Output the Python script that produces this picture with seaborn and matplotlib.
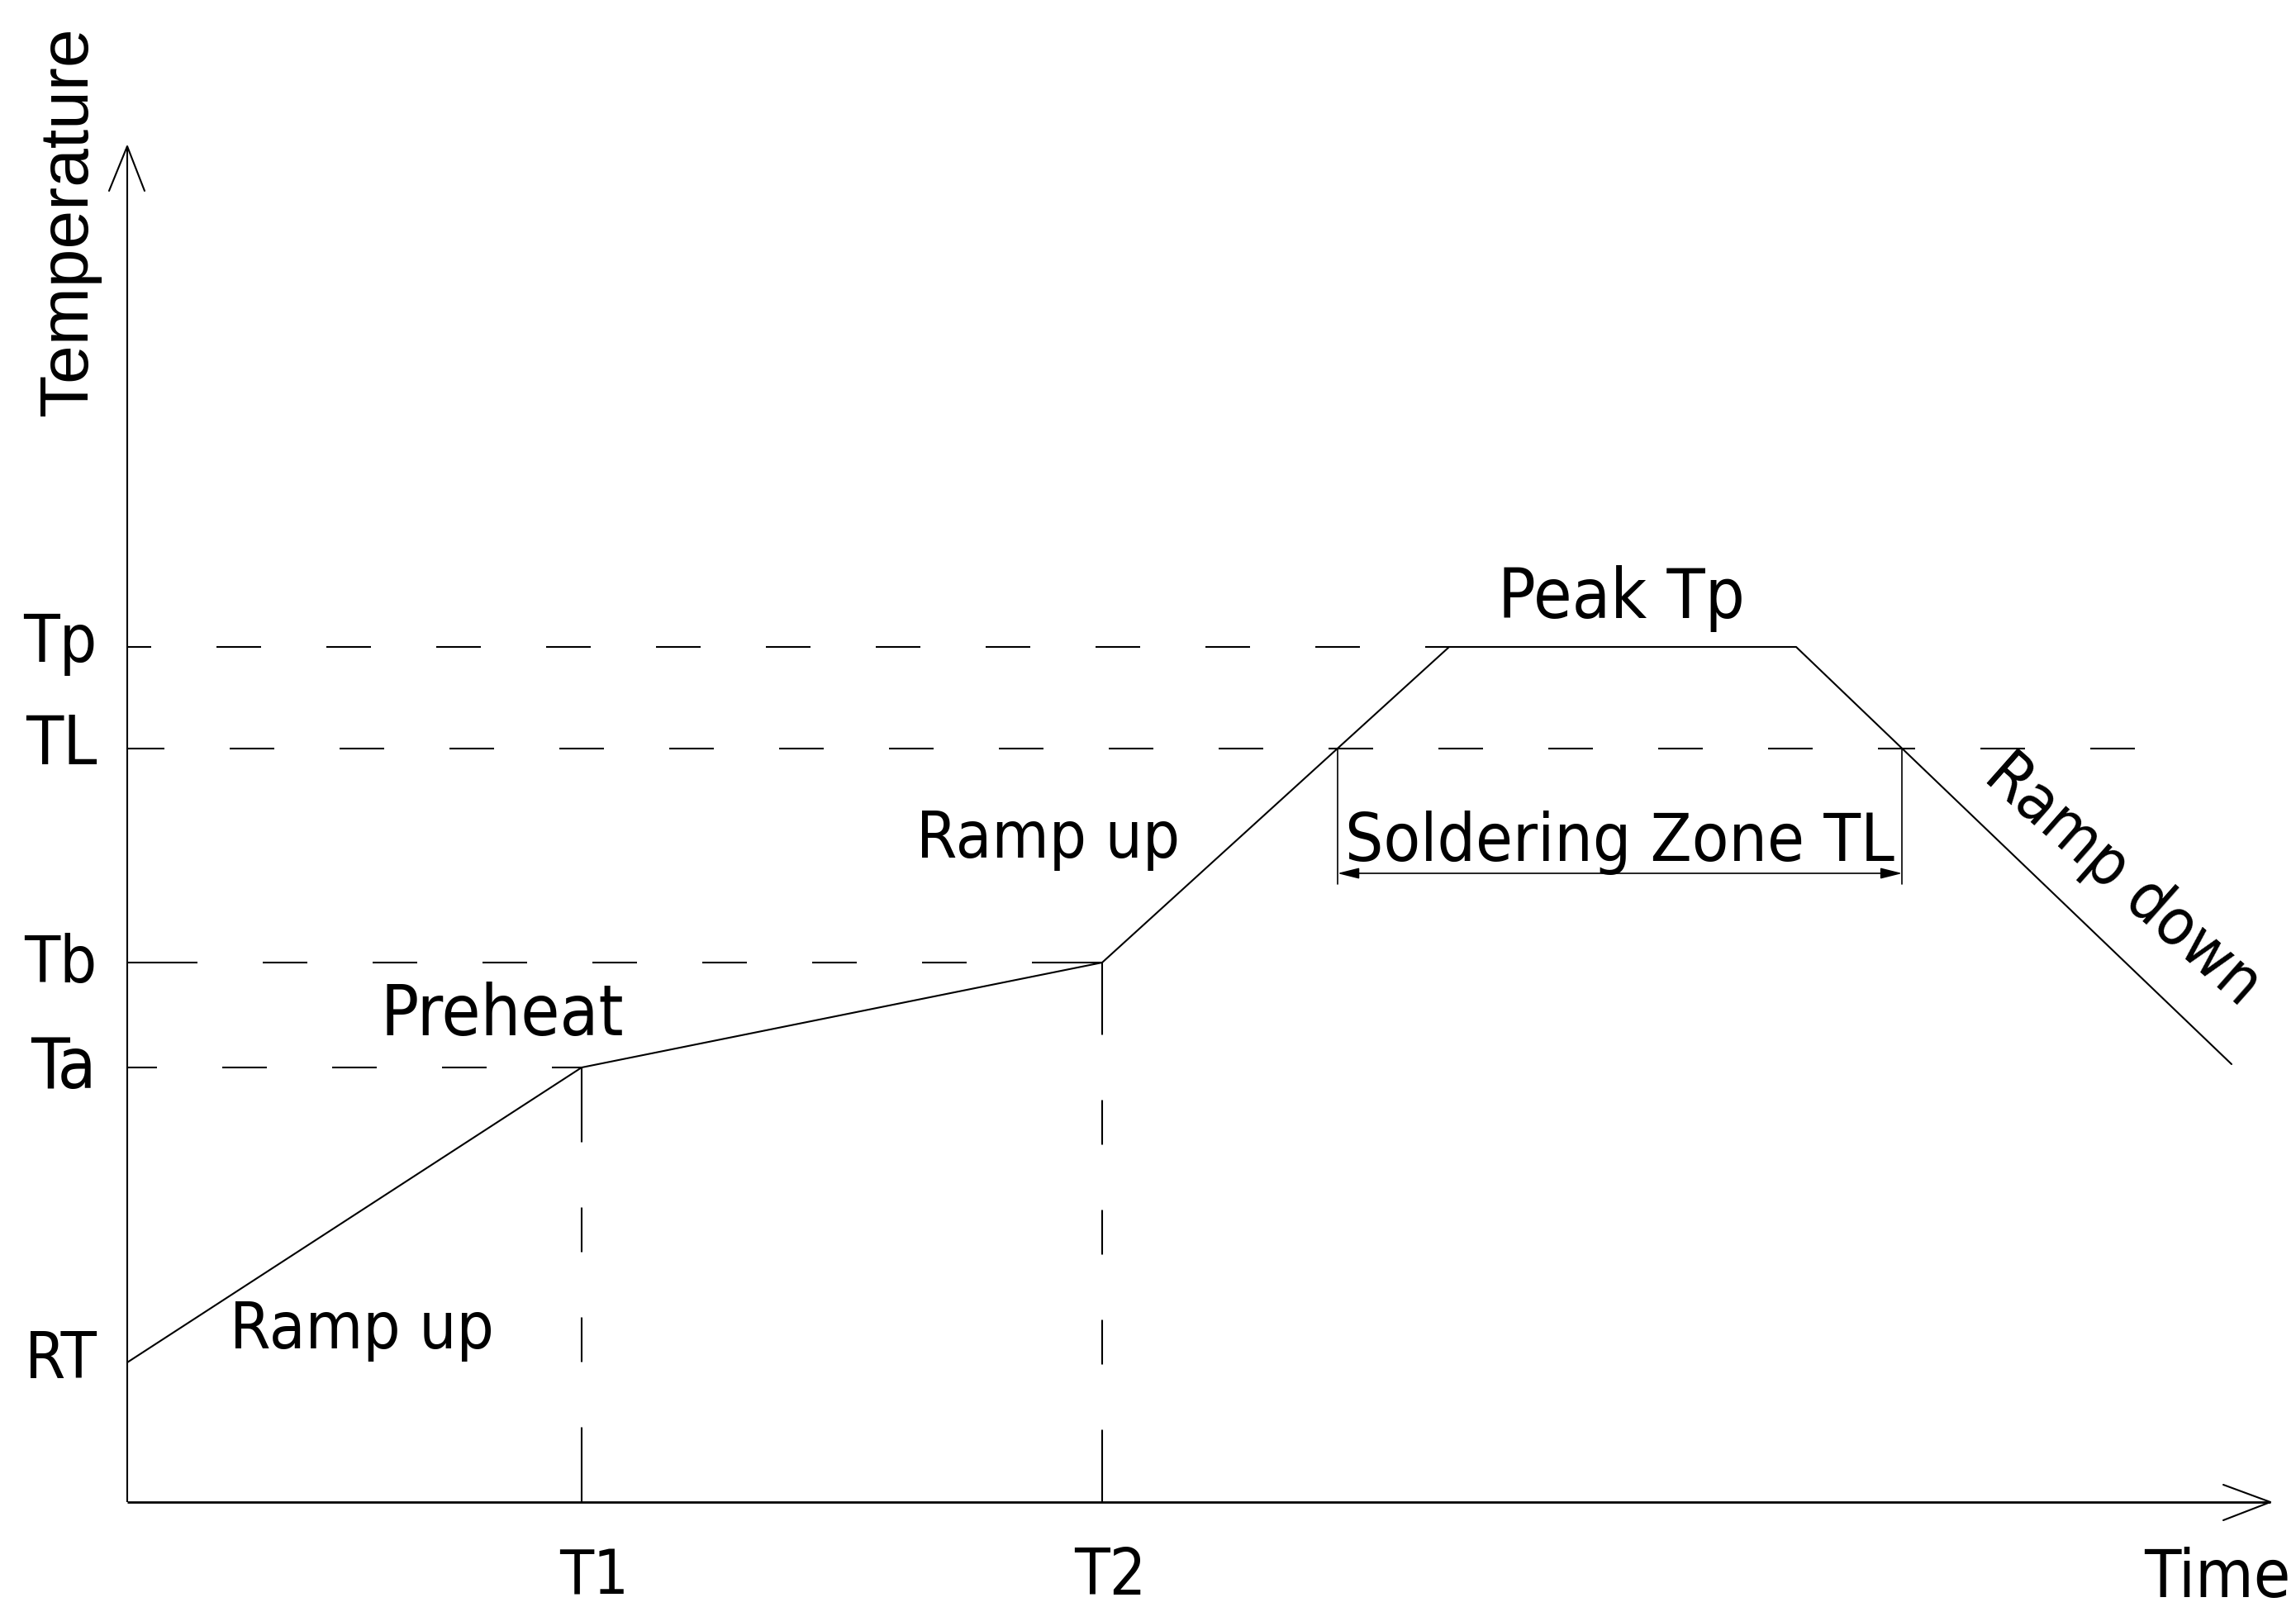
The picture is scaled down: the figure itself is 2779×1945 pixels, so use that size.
import numpy as np
import pandas as pd
import matplotlib
matplotlib.use("Agg")
import matplotlib.pyplot as plt
from matplotlib import font_manager
import seaborn as sns

# ---------------- data (schematic units) ----------------
profile_time = [0.0, 55.0, 118.0, 160.0, 202.0, 254.7]
profile_temp = [16.9, 52.6, 65.3, 103.5, 103.5, 53.0]

level_names = ["Tp", "TL", "Tb", "Ta", "RT"]
level_values = [103.5, 91.2, 65.3, 52.6, 16.9]

time_names = ["T1", "T2"]
time_values = [55.0, 118.0]

tl_line_end = 243.0
x_axis_end = 259.4
y_axis_end = 164.1

# ---------------- style ----------------
sns.set_theme(style="white")
plt.rcParams["lines.scale_dashes"] = False
plt.rcParams["text.color"] = "black"
plt.rcParams["font.family"] = ["Liberation Sans", "DejaVu Sans"]


def find_narrow():
    best = None
    for f in font_manager.fontManager.ttflist:
        fn = f.fname.lower()
        nm = f.name.lower()
        if not ("narrow" in fn or "condensed" in fn or "narrow" in nm or "condensed" in nm):
            continue
        if any(k in fn for k in ("bold", "italic", "oblique", "mono", "serif", "light", "thin", "black")):
            continue
        if "serif" in nm or "mono" in nm:
            continue
        score = 0 if "liberation" in fn else 1
        if best is None or score < best[0]:
            best = (score, f.fname)
    return best[1] if best else None


narrow_path = find_narrow()


def make_fp(size, regular=False):
    if narrow_path and not regular:
        fp = font_manager.FontProperties(fname=narrow_path)
    else:
        fp = font_manager.FontProperties(family=["Liberation Sans", "DejaVu Sans"])
    fp.set_size(size)
    return fp


DPI = 100
fig = plt.figure(figsize=(27.79, 19.45), dpi=DPI)
ax = fig.add_axes([0, 0, 1, 1])
ax.set_xlim(-15.4, 262.5)
ax.set_ylim(-12.7, 181.8)
ax.set_axis_off()
renderer = fig.canvas.get_renderer()

PX = 10.0          # pixels per data unit
PT = 72.0 / DPI    # points per pixel
DASH, GAP = 54.0, 79.0
LW = 1.5


def cad_dashes(length_units):
    """Symmetric CAD-style dash pattern for a line of the given length."""
    L = length_units * PX
    period = DASH + GAP
    n = int((L - GAP - DASH) // period)
    while n >= 0:
        d0 = (L - GAP - n * period) / 2.0
        if d0 >= DASH / 2:
            break
        n -= 1
    seq = [d0, GAP] + [DASH, GAP] * n + [d0, GAP * 4]
    return (0, [s * PT for s in seq])


def label(x, y, s, target_w, size=61, rotation=0, regular=False, **kw):
    t = ax.text(x, y, s, fontproperties=make_fp(size, regular), **kw)
    w = t.get_window_extent(renderer).width
    scale = (target_w / w) ** 0.5
    t.set_fontproperties(make_fp(size * scale, regular))
    if rotation:
        t.set_rotation(rotation)
        t.set_rotation_mode("anchor")
    return t


lv = dict(zip(level_names, level_values))

# dashed guide lines (horizontal)
h_lines = [("Tp", 0.0, profile_time[3]), ("TL", 0.0, tl_line_end),
           ("Tb", 0.0, time_values[1]), ("Ta", 0.0, time_values[0])]
for name, x0, x1 in h_lines:
    ax.plot([x0, x1], [lv[name], lv[name]], color="black", lw=LW,
            linestyle=cad_dashes(x1 - x0), solid_capstyle="butt")

# dashed guide lines (vertical)
for tname, tval, lname in [("T1", time_values[0], "Ta"), ("T2", time_values[1], "Tb")]:
    ax.plot([tval, tval], [lv[lname], 0.0], color="black", lw=LW,
            linestyle=cad_dashes(lv[lname]), solid_capstyle="butt")

# reflow profile
df = pd.DataFrame({"time": profile_time, "temp": profile_temp})
sns.lineplot(data=df, x="time", y="temp", sort=False, color="black", lw=LW,
             ax=ax, estimator=None)

# axes with open arrowheads
ax.plot([0, x_axis_end], [0, 0], color="black", lw=2.0, solid_capstyle="butt")
ax.plot([0, 0], [0, y_axis_end], color="black", lw=LW, solid_capstyle="butt")
ax.plot([x_axis_end - 5.7, x_axis_end, x_axis_end - 5.7], [2.1, 0, -2.2],
        color="black", lw=LW)
ax.plot([-2.2, 0, 2.1], [y_axis_end - 5.4, y_axis_end, y_axis_end - 5.4],
        color="black", lw=LW)

# soldering zone (TL crossings of the profile)
rise_t = np.interp(lv["TL"], profile_temp[2:4], profile_time[2:4])
fall_t = np.interp(lv["TL"], profile_temp[5:3:-1], profile_time[5:3:-1])
for t in (rise_t, fall_t):
    ax.plot([t, t], [lv["TL"], 74.8], color="black", lw=1.2)
ax.annotate("", xy=(fall_t, 76.1), xytext=(rise_t, 76.1),
            arrowprops=dict(arrowstyle="<|-|>,head_length=0.4,head_width=0.1",
                            mutation_scale=40, color="black", lw=1.2,
                            shrinkA=0, shrinkB=0))

# level labels
label_base = {"Tp": 101.7, "TL": 89.3, "Tb": 62.9, "Ta": 50.1, "RT": 15.0}
label_w = {"Tp": 84, "TL": 84, "Tb": 82, "Ta": 80, "RT": 81}
for name in level_names:
    label(-3.7, label_base[name], name, label_w[name], ha="right", va="baseline")

# time labels
label(56.5, -11.2, "T1", 74, ha="center", va="baseline")
label(119.0, -11.2, "T2", 80, ha="center", va="baseline")
label(261.8, -11.5, "Time", 169, ha="right", va="baseline")

# stage annotations
label(28.4, 18.6, "Ramp up", 300, ha="center", va="baseline")
label(45.4, 56.5, "Preheat", 296, ha="center", va="baseline")
label(111.5, 78.0, "Ramp up", 298, ha="center", va="baseline")
label(180.8, 107.0, "Peak Tp", 298, ha="center", va="baseline")
label((rise_t + fall_t) / 2, 77.6, "Soldering Zone TL", 671, size=58,
      ha="center", va="baseline")
label(241.6, 75.3, "Ramp down", 388, rotation=-41.5, ha="center", va="center")

label(-7.1, 155.0, "Temperature", 475, size=60, rotation=90, regular=True,
      ha="center", va="center")

fig.savefig("out.png", dpi=DPI, facecolor="white")
